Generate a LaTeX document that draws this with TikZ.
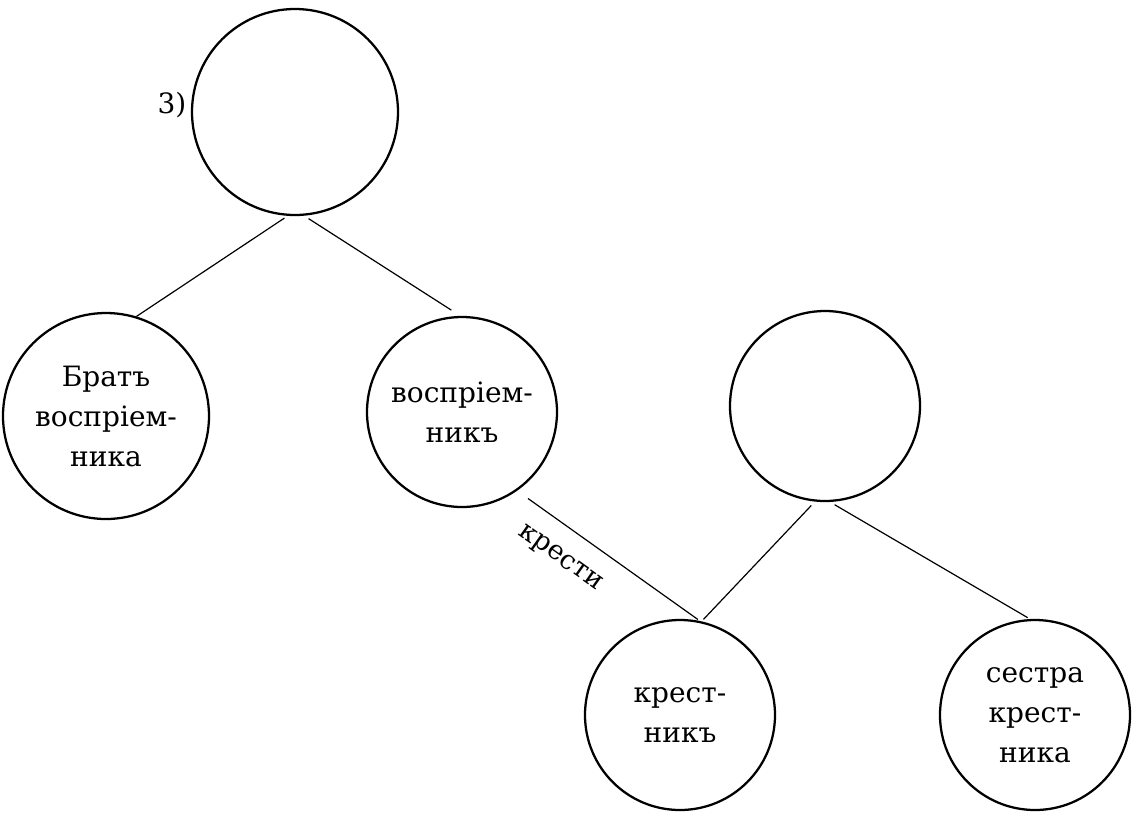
\documentclass[tikz,border=0pt]{standalone}
\usepackage{fontspec}
\setmainfont{DejaVu Serif}
\begin{document}
\begin{tikzpicture}[x=0.75pt,y=-0.75pt,
  circ/.style={circle,draw,line width=1.7pt,minimum size=142.5pt,inner sep=0pt,
    align=center,font=\fontsize{21}{30}\selectfont},
  bigcirc/.style={circ,minimum size=154.5pt},
  link/.style={line width=0.9pt}]
\useasboundingbox (0,0) rectangle (1133,819);
\node[bigcirc] (top) at (295,112) {};
\node[font=\fontsize{21}{28}\selectfont] (num) at (172,105) {3)};
\node[bigcirc] (brat) at (106,416) {Братъ\\воспріем-\\ника};
\node[circ] (vospr) at (462,412) {воспріем-\\никъ};
\node[circ] (right) at (825,406) {};
\node[circ] (krest) at (680,715) {крест-\\никъ};
\node[circ] (sestra) at (1035,715) {сестра\\крест-\\ника};
\draw[link,shorten <=3pt] (top.266) -- (brat.73);
\draw[link,shorten <=4pt,shorten >=8pt] (top.275) -- (vospr.91);
\draw[link,shorten <=10pt,shorten >=2pt] (vospr.-55) -- node[sloped,below=12pt,pos=0.33,font=\fontsize{20}{24}\selectfont] (lbl) {крести} (krest.78);
\draw[link,shorten <=4pt,shorten >=2pt] (right.264) -- (krest.77);
\draw[link,shorten <=4pt,shorten >=2pt] (right.273) -- (sestra.93);
\end{tikzpicture}
\end{document}
